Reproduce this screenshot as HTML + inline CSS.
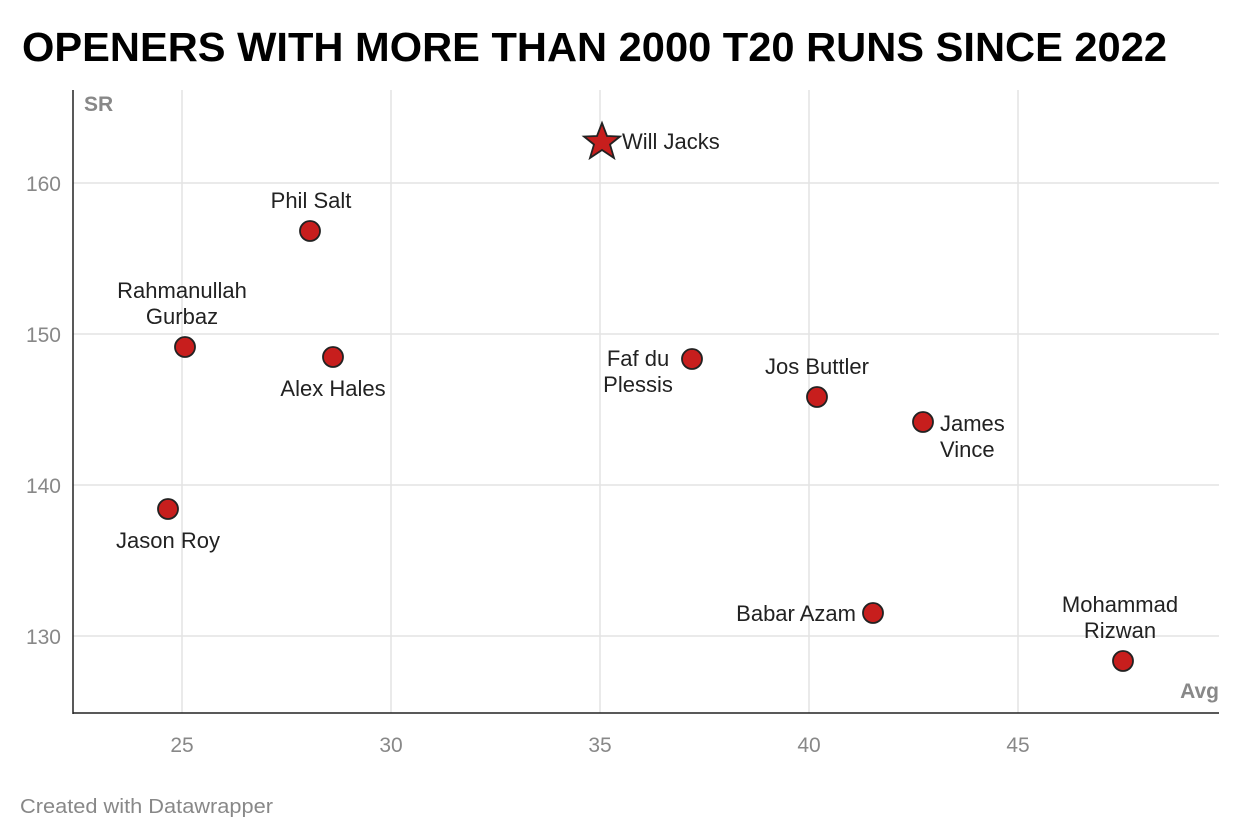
<!DOCTYPE html>
<html><head><meta charset="utf-8"><style>
html,body{margin:0;padding:0;background:#fff;}
svg{display:block;font-family:"Liberation Sans",Arial,sans-serif;}
</style></head><body>
<svg width="1240" height="840" viewBox="0 0 1240 840">
<text x="22" y="61" font-size="41" font-weight="bold" fill="#000" textLength="1145" lengthAdjust="spacingAndGlyphs">OPENERS WITH MORE THAN 2000 T20 RUNS SINCE 2022</text>
<g stroke="#e3e3e3" stroke-width="1.5">
<line x1="182" y1="90" x2="182" y2="713"/><line x1="391" y1="90" x2="391" y2="713"/><line x1="600" y1="90" x2="600" y2="713"/><line x1="809" y1="90" x2="809" y2="713"/><line x1="1018" y1="90" x2="1018" y2="713"/>
<line x1="73" y1="183" x2="1219" y2="183"/><line x1="73" y1="334" x2="1219" y2="334"/><line x1="73" y1="485" x2="1219" y2="485"/><line x1="73" y1="636" x2="1219" y2="636"/>
</g>
<line x1="73" y1="90" x2="73" y2="714" stroke="#222" stroke-width="1.5"/>
<line x1="73" y1="713" x2="1219" y2="713" stroke="#222" stroke-width="1.5"/>
<g font-size="21" fill="#888" text-anchor="middle">
<text x="182" y="752">25</text><text x="391" y="752">30</text><text x="600" y="752">35</text><text x="809" y="752">40</text><text x="1018" y="752">45</text>
</g>
<g font-size="21" fill="#888" text-anchor="end">
<text x="61" y="191">160</text><text x="61" y="342">150</text><text x="61" y="493">140</text><text x="61" y="644">130</text>
</g>
<text x="84" y="111" font-size="21" font-weight="bold" fill="#888">SR</text>
<text x="1219" y="698" font-size="21" font-weight="bold" fill="#888" text-anchor="end">Avg</text>
<g fill="#c71e1d" stroke="#222" stroke-width="1.8">
<circle cx="310" cy="231" r="10"/><circle cx="185" cy="347" r="10"/><circle cx="333" cy="357" r="10"/><circle cx="692" cy="359" r="10"/><circle cx="817" cy="397" r="10"/><circle cx="923" cy="422" r="10"/><circle cx="168" cy="509" r="10"/><circle cx="873" cy="613" r="10"/><circle cx="1123" cy="661" r="10"/>
<polygon points="602,123 607,136 620,136.5 610,144.5 614,158 602,150 590,158 594,144.5 584,136.5 597,136"/>
</g>
<g font-size="22" fill="#222">
<text x="622" y="149">Will Jacks</text>
<text x="311" y="208" text-anchor="middle">Phil Salt</text>
<text x="182" y="298" text-anchor="middle">Rahmanullah</text>
<text x="182" y="324" text-anchor="middle">Gurbaz</text>
<text x="333" y="396" text-anchor="middle">Alex Hales</text>
<text x="638" y="366" text-anchor="middle">Faf du</text>
<text x="638" y="392" text-anchor="middle">Plessis</text>
<text x="817" y="374" text-anchor="middle">Jos Buttler</text>
<text x="940" y="431">James</text>
<text x="940" y="457">Vince</text>
<text x="168" y="548" text-anchor="middle">Jason Roy</text>
<text x="856" y="621" text-anchor="end">Babar Azam</text>
<text x="1120" y="612" text-anchor="middle">Mohammad</text>
<text x="1120" y="638" text-anchor="middle">Rizwan</text>
</g>
<text x="20" y="813" font-size="20" fill="#888" textLength="253" lengthAdjust="spacingAndGlyphs">Created with Datawrapper</text>
</svg>
</body></html>
